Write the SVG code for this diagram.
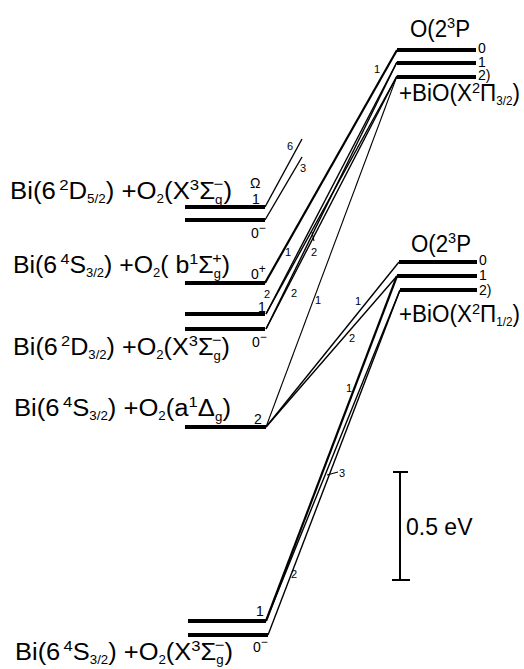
<svg xmlns="http://www.w3.org/2000/svg" width="524" height="669" viewBox="0 0 524 669">
<style>
.lvl{stroke:#000;stroke-width:4;fill:none}
.ln{stroke:#000;stroke-width:1.4;fill:none}
.lk{stroke:#000;stroke-width:2.2;fill:none}
.lt{stroke:#000;stroke-width:1.1;fill:none}
.t{font-family:"Liberation Sans",Arial,sans-serif;font-size:23px;fill:#000}
.sp{font-size:15px}
.sb{font-size:12px}
.lb{font-family:"Liberation Sans",Arial,sans-serif;font-size:14px;fill:#000}
.n{font-family:"Liberation Sans",Arial,sans-serif;font-size:11px;fill:#000}
</style>
<rect width="524" height="669" fill="#fff"/>

<g id="connectors">
  <line class="ln" x1="265" y1="207" x2="302" y2="139"/>
  <line class="ln" x1="265" y1="220" x2="302" y2="157"/>
  <line class="lk" x1="265" y1="283" x2="397" y2="50"/>
  <line class="ln" x1="266" y1="314" x2="397" y2="62"/>
  <line class="ln" x1="266" y1="314" x2="397" y2="76"/>
  <line class="ln" x1="266" y1="329" x2="397" y2="62"/>
  <line class="ln" x1="266" y1="329" x2="397" y2="76"/>
  <line class="lt" x1="266" y1="427" x2="397" y2="76"/>
  <line class="ln" x1="266" y1="427" x2="399" y2="262"/>
  <line class="ln" x1="266" y1="427" x2="397" y2="276"/>
  <line class="lk" x1="266" y1="621" x2="397" y2="276"/>
  <line class="ln" x1="266" y1="621" x2="400" y2="290"/>
  <line class="ln" x1="268" y1="635" x2="400" y2="290"/>
  <line class="lt" x1="312" y1="232" x2="314" y2="241"/>
  <line class="lt" x1="327" y1="475" x2="338" y2="472"/>
</g>

<g id="BiO-X2Pi32">
  <line class="lvl" x1="397" y1="50" x2="476" y2="50"/>
  <line class="lvl" x1="397" y1="63" x2="476" y2="63"/>
  <line class="lvl" x1="397" y1="77" x2="476" y2="77"/>
  <text class="t" x="410" y="37" textLength="60" lengthAdjust="spacingAndGlyphs">O(2<tspan class="sp" dy="-9">3</tspan><tspan dy="9">P</tspan></text>
  <text class="lb" x="478" y="53">0</text>
  <text class="lb" x="478" y="67">1</text>
  <text class="lb" x="478" y="80">2)</text>
  <text class="t" x="399" y="101" textLength="121" lengthAdjust="spacingAndGlyphs">+BiO(X<tspan class="sp" dy="-8">2</tspan><tspan dy="8">Π</tspan><tspan class="sb" dy="4">3/2</tspan><tspan dy="-4">)</tspan></text>
</g>

<g id="BiO-X2Pi12">
  <line class="lvl" x1="399" y1="262" x2="477" y2="262"/>
  <line class="lvl" x1="397" y1="276" x2="477" y2="276"/>
  <line class="lvl" x1="400" y1="290" x2="477" y2="290"/>
  <text class="t" x="411" y="252" textLength="60" lengthAdjust="spacingAndGlyphs">O(2<tspan class="sp" dy="-9">3</tspan><tspan dy="9">P</tspan></text>
  <text class="lb" x="479" y="265">0</text>
  <text class="lb" x="479" y="280">1</text>
  <text class="lb" x="479" y="295">2)</text>
  <text class="t" x="399" y="322" textLength="121" lengthAdjust="spacingAndGlyphs">+BiO(X<tspan class="sp" dy="-8">2</tspan><tspan dy="8">Π</tspan><tspan class="sb" dy="4">1/2</tspan><tspan dy="-4">)</tspan></text>
</g>

<g id="Bi-2D52-X">
  <line class="lvl" x1="185" y1="207" x2="265" y2="207"/>
  <line class="lvl" x1="185" y1="220" x2="265" y2="220"/>
  <text class="t" x="10" y="199" textLength="222" lengthAdjust="spacingAndGlyphs">Bi(6<tspan class="sp" dx="3" dy="-9">2</tspan><tspan dy="9">D</tspan><tspan class="sb" dy="4">5/2</tspan><tspan dy="-4">) +O</tspan><tspan class="sb" dy="4">2</tspan><tspan dy="-4">(X</tspan><tspan class="sp" dy="-9">3</tspan><tspan dy="9">Σ</tspan><tspan class="sb" dy="5">g</tspan><tspan class="sp" dx="-8" dy="-15">−</tspan><tspan dy="10">)</tspan></text>
  <text class="lb" x="250" y="188">Ω</text>
  <text class="lb" x="252" y="204">1</text>
  <text class="lb" x="251" y="238">0<tspan class="sb" dy="-6">−</tspan></text>
</g>

<g id="Bi-4S32-b">
  <line class="lvl" x1="185" y1="283" x2="265" y2="283"/>
  <text class="t" x="13" y="273" textLength="217" lengthAdjust="spacingAndGlyphs">Bi(6<tspan class="sp" dx="3" dy="-9">4</tspan><tspan dy="9">S</tspan><tspan class="sb" dy="4">3/2</tspan><tspan dy="-4">) +O</tspan><tspan class="sb" dy="4">2</tspan><tspan dy="-4">( b</tspan><tspan class="sp" dy="-9">1</tspan><tspan dy="9">Σ</tspan><tspan class="sb" dy="5">g</tspan><tspan class="sp" dx="-8" dy="-15">+</tspan><tspan dy="10">)</tspan></text>
  <text class="lb" x="251" y="279">0<tspan class="sb" dy="-6">+</tspan></text>
</g>

<g id="Bi-2D32-X">
  <line class="lvl" x1="185" y1="314" x2="265" y2="314"/>
  <line class="lvl" x1="185" y1="329" x2="265" y2="329"/>
  <text class="t" x="13" y="355" textLength="217" lengthAdjust="spacingAndGlyphs">Bi(6<tspan class="sp" dx="3" dy="-9">2</tspan><tspan dy="9">D</tspan><tspan class="sb" dy="4">3/2</tspan><tspan dy="-4">) +O</tspan><tspan class="sb" dy="4">2</tspan><tspan dy="-4">(X</tspan><tspan class="sp" dy="-9">3</tspan><tspan dy="9">Σ</tspan><tspan class="sb" dy="5">g</tspan><tspan class="sp" dx="-8" dy="-15">−</tspan><tspan dy="10">)</tspan></text>
  <text class="lb" x="258" y="312">1</text>
  <text class="lb" x="252" y="347">0<tspan class="sb" dy="-6">−</tspan></text>
</g>

<g id="Bi-4S32-a">
  <line class="lvl" x1="185" y1="427" x2="266" y2="427"/>
  <text class="t" x="14" y="416" textLength="217" lengthAdjust="spacingAndGlyphs">Bi(6<tspan class="sp" dx="3" dy="-9">4</tspan><tspan dy="9">S</tspan><tspan class="sb" dy="4">3/2</tspan><tspan dy="-4">) +O</tspan><tspan class="sb" dy="4">2</tspan><tspan dy="-4">(a</tspan><tspan class="sp" dy="-9">1</tspan><tspan dy="9">Δ</tspan><tspan class="sb" dy="5">g</tspan><tspan dy="-5">)</tspan></text>
  <text class="lb" x="254" y="424">2</text>
</g>

<g id="Bi-4S32-X">
  <line class="lvl" x1="188" y1="621" x2="266" y2="621"/>
  <line class="lvl" x1="188" y1="635" x2="268" y2="635"/>
  <text class="t" x="15" y="660" textLength="218" lengthAdjust="spacingAndGlyphs">Bi(6<tspan class="sp" dx="3" dy="-9">4</tspan><tspan dy="9">S</tspan><tspan class="sb" dy="4">3/2</tspan><tspan dy="-4">) +O</tspan><tspan class="sb" dy="4">2</tspan><tspan dy="-4">(X</tspan><tspan class="sp" dy="-9">3</tspan><tspan dy="9">Σ</tspan><tspan class="sb" dy="4">g</tspan><tspan class="sp" dx="-8" dy="-14">−</tspan><tspan dy="10">)</tspan></text>
  <text class="lb" x="256" y="616">1</text>
  <text class="lb" x="253" y="652">0<tspan class="sb" dy="-6">−</tspan></text>
</g>

<g id="line-labels">
  <text class="n" x="374" y="73">1</text>
  <text class="n" x="287" y="150">6</text>
  <text class="n" x="300" y="172">3</text>
  <text class="n" x="285" y="256">1</text>
  <text class="n" x="311" y="256">2</text>
  <text class="n" x="264" y="298">2</text>
  <text class="n" x="291" y="297">2</text>
  <text class="n" x="315" y="304">1</text>
  <text class="n" x="355" y="305">1</text>
  <text class="n" x="349" y="342">2</text>
  <text class="n" x="346" y="392">1</text>
  <text class="n" x="339" y="477">3</text>
  <text class="n" x="291" y="578">2</text>
</g>

<g id="scale-bar">
  <line stroke="#000" stroke-width="2" x1="400" y1="472" x2="400" y2="580"/>
  <line stroke="#000" stroke-width="2" x1="393" y1="472" x2="408" y2="472"/>
  <line stroke="#000" stroke-width="2" x1="392" y1="580" x2="410" y2="580"/>
  <text class="t" x="406" y="535" font-size="20">0.5 eV</text>
</g>
</svg>
